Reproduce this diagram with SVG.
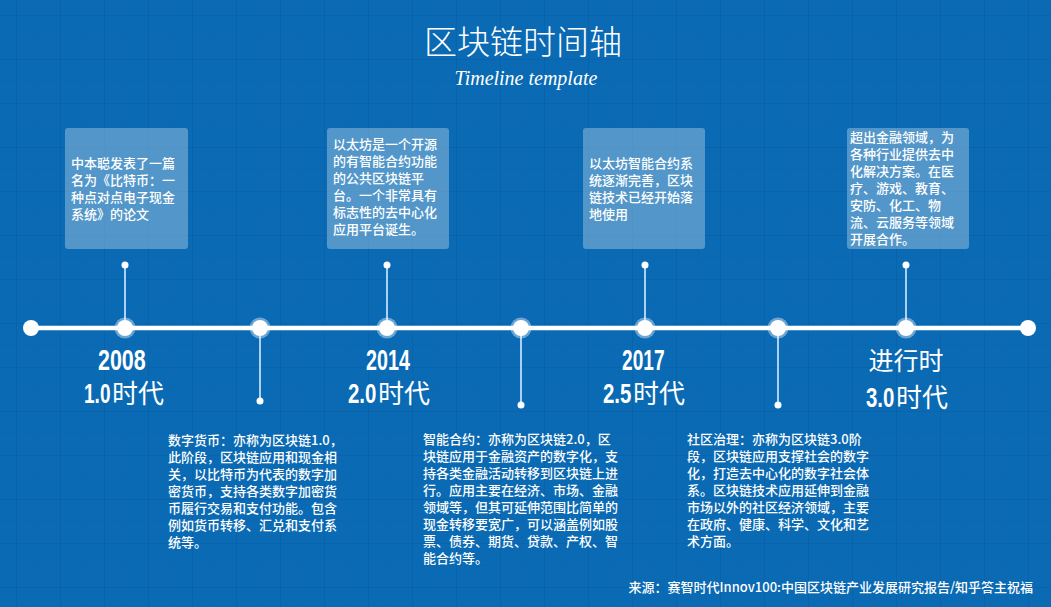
<svg xmlns="http://www.w3.org/2000/svg" width="1051" height="607" viewBox="0 0 1051 607">
  <style>
    .cjk { font-family: "Noto Sans CJK SC", "Liberation Sans", sans-serif; fill: #ffffff; }
    .box { fill: #ffffff; fill-opacity: 0.3; }
    .boxtxt { font-size: 13px; font-weight: 500; }
    .desc { font-size: 13px; font-weight: 500; }
    .yr { font-family: "Liberation Sans", sans-serif; font-weight: bold; fill: #ffffff; font-size: 29px; }
    .ver { font-family: "Liberation Sans", sans-serif; font-weight: bold; fill: #ffffff; font-size: 28px; }
    .era { font-size: 26px; }
    .conn { stroke: #a8d2f4; stroke-width: 2; fill: none; }
    .dot { fill: #ffffff; }
    .halo { fill: #ffffff; fill-opacity: 0.4; }
  </style>
  <defs>
    <pattern id="grid" x="16" y="15" width="44" height="44" patternUnits="userSpaceOnUse">
      <path d="M0 22 H44 M22 0 V44" stroke="#0967b0" stroke-width="1" fill="none"/>
      <path d="M0 0 H44 M0 0 V44" stroke="#075ea6" stroke-width="1.2" fill="none"/>
    </pattern>
  </defs>
  <rect width="1051" height="607" fill="#0a6ab4"/>
  <rect width="1051" height="607" fill="url(#grid)"/>

  <g id="title">
    <text class="cjk" x="523" y="54" text-anchor="middle" font-size="33" font-weight="300">区块链时间轴</text>
    <text x="526" y="85" text-anchor="middle" font-family="Liberation Serif, serif" font-style="italic" font-size="20" fill="#ffffff">Timeline template</text>
  </g>

  <g id="connectors">
    <line x1="31" y1="328" x2="1028" y2="328" stroke="#ffffff" stroke-width="4.5"/>
    <circle class="dot" cx="31" cy="328" r="8"/>
    <circle class="dot" cx="1028" cy="328" r="8"/>
    <line class="conn" x1="125" y1="265" x2="125" y2="328"/>
    <circle cx="125" cy="265" r="3.5" fill="#ffffff"/>
    <line class="conn" x1="387" y1="265" x2="387" y2="328"/>
    <circle cx="387" cy="265" r="3.5" fill="#ffffff"/>
    <line class="conn" x1="645" y1="265" x2="645" y2="328"/>
    <circle cx="645" cy="265" r="3.5" fill="#ffffff"/>
    <line class="conn" x1="906" y1="265" x2="906" y2="328"/>
    <circle cx="906" cy="265" r="3.5" fill="#ffffff"/>
    <line class="conn" x1="260" y1="328" x2="260" y2="401"/>
    <circle cx="260" cy="401" r="3.5" fill="#ffffff"/>
    <line class="conn" x1="521" y1="328" x2="521" y2="405"/>
    <circle cx="521" cy="405" r="3.5" fill="#ffffff"/>
    <line class="conn" x1="778" y1="328" x2="778" y2="405"/>
    <circle cx="778" cy="405" r="3.5" fill="#ffffff"/>
  </g>

  <g id="node-2008">
    <circle class="halo" cx="125" cy="328" r="10.5"/>
    <circle class="dot" cx="125" cy="328" r="8"/>
    <rect class="box" x="65" y="128" width="123" height="121" rx="3"/>
    <text class="cjk boxtxt" x="71"><tspan x="71" y="168">中本聪发表了一篇</tspan><tspan x="71" y="185">名为《比特币：一</tspan><tspan x="71" y="202">种点对点电子现金</tspan><tspan x="71" y="219">系统》的论文</tspan></text>
    <text class="yr" transform="translate(98 370) scale(0.74 1)">2008</text>
    <text class="ver" transform="translate(84 403) scale(0.68 1)">1.0</text>
    <text class="cjk era" x="112" y="403">时代</text>
  </g>

  <g id="node-mid1">
    <circle class="halo" cx="260" cy="328" r="10.5"/>
    <circle class="dot" cx="260" cy="328" r="8"/>
    <text class="cjk desc"><tspan x="168" y="445">数字货币：亦称为区块链1.0，</tspan><tspan x="168" y="462">此阶段，区块链应用和现金相</tspan><tspan x="168" y="479">关，以比特币为代表的数字加</tspan><tspan x="168" y="496">密货币，支持各类数字加密货</tspan><tspan x="168" y="513">币履行交易和支付功能。包含</tspan><tspan x="168" y="530">例如货币转移、汇兑和支付系</tspan><tspan x="168" y="547">统等。</tspan></text>
  </g>

  <g id="node-2014">
    <circle class="halo" cx="387" cy="328" r="10.5"/>
    <circle class="dot" cx="387" cy="328" r="8"/>
    <rect class="box" x="327" y="128" width="122" height="121" rx="3"/>
    <text class="cjk boxtxt"><tspan x="333" y="149">以太坊是一个开源</tspan><tspan x="333" y="166">的有智能合约功能</tspan><tspan x="333" y="183">的公共区块链平</tspan><tspan x="333" y="200">台。一个非常具有</tspan><tspan x="333" y="217">标志性的去中心化</tspan><tspan x="333" y="234">应用平台诞生。</tspan></text>
    <text class="yr" transform="translate(366 370) scale(0.68 1)">2014</text>
    <text class="ver" transform="translate(348 403) scale(0.73 1)">2.0</text>
    <text class="cjk era" x="378" y="403">时代</text>
  </g>

  <g id="node-mid2">
    <circle class="halo" cx="521" cy="328" r="10.5"/>
    <circle class="dot" cx="521" cy="328" r="8"/>
    <text class="cjk desc"><tspan x="423" y="444">智能合约：亦称为区块链2.0，区</tspan><tspan x="423" y="461">块链应用于金融资产的数字化，支</tspan><tspan x="423" y="478">持各类金融活动转移到区块链上进</tspan><tspan x="423" y="495">行。应用主要在经济、市场、金融</tspan><tspan x="423" y="512">领域等，但其可延伸范围比简单的</tspan><tspan x="423" y="529">现金转移要宽广，可以涵盖例如股</tspan><tspan x="423" y="546">票、债券、期货、贷款、产权、智</tspan><tspan x="423" y="563">能合约等。</tspan></text>
  </g>

  <g id="node-2017">
    <circle class="halo" cx="645" cy="328" r="10.5"/>
    <circle class="dot" cx="645" cy="328" r="8"/>
    <rect class="box" x="583" y="128" width="122" height="121" rx="3"/>
    <text class="cjk boxtxt"><tspan x="589" y="168">以太坊智能合约系</tspan><tspan x="589" y="185">统逐渐完善，区块</tspan><tspan x="589" y="202">链技术已经开始落</tspan><tspan x="589" y="219">地使用</tspan></text>
    <text class="yr" transform="translate(622 370) scale(0.66 1)">2017</text>
    <text class="ver" transform="translate(603 403) scale(0.73 1)">2.5</text>
    <text class="cjk era" x="633" y="403">时代</text>
  </g>

  <g id="node-mid3">
    <circle class="halo" cx="778" cy="328" r="10.5"/>
    <circle class="dot" cx="778" cy="328" r="8"/>
    <text class="cjk desc"><tspan x="687" y="444">社区治理：亦称为区块链3.0阶</tspan><tspan x="687" y="461">段，区块链应用支撑社会的数字</tspan><tspan x="687" y="478">化，打造去中心化的数字社会体</tspan><tspan x="687" y="495">系。区块链技术应用延伸到金融</tspan><tspan x="687" y="512">市场以外的社区经济领域，主要</tspan><tspan x="687" y="529">在政府、健康、科学、文化和艺</tspan><tspan x="687" y="546">术方面。</tspan></text>
  </g>

  <g id="node-now">
    <circle class="halo" cx="906" cy="328" r="10.5"/>
    <circle class="dot" cx="906" cy="328" r="8"/>
    <rect class="box" x="847" y="128" width="122" height="121" rx="3"/>
    <text class="cjk boxtxt"><tspan x="850" y="142">超出金融领域，为</tspan><tspan x="850" y="159">各种行业提供去中</tspan><tspan x="850" y="176">化解决方案。在医</tspan><tspan x="850" y="193">疗、游戏、教育、</tspan><tspan x="850" y="210">安防、化工、物</tspan><tspan x="850" y="227">流、云服务等领域</tspan><tspan x="850" y="244">开展合作。</tspan></text>
    <text class="cjk" x="906" y="370" text-anchor="middle" font-size="25">进行时</text>
    <text class="ver" transform="translate(866 407) scale(0.73 1)">3.0</text>
    <text class="cjk era" x="896" y="407">时代</text>
  </g>

  <g id="footer">
    <text class="cjk" x="1033" y="592" text-anchor="end" font-size="13" font-weight="500">来源：赛智时代Innov100:中国区块链产业发展研究报告/知乎答主祝福</text>
  </g>
</svg>
